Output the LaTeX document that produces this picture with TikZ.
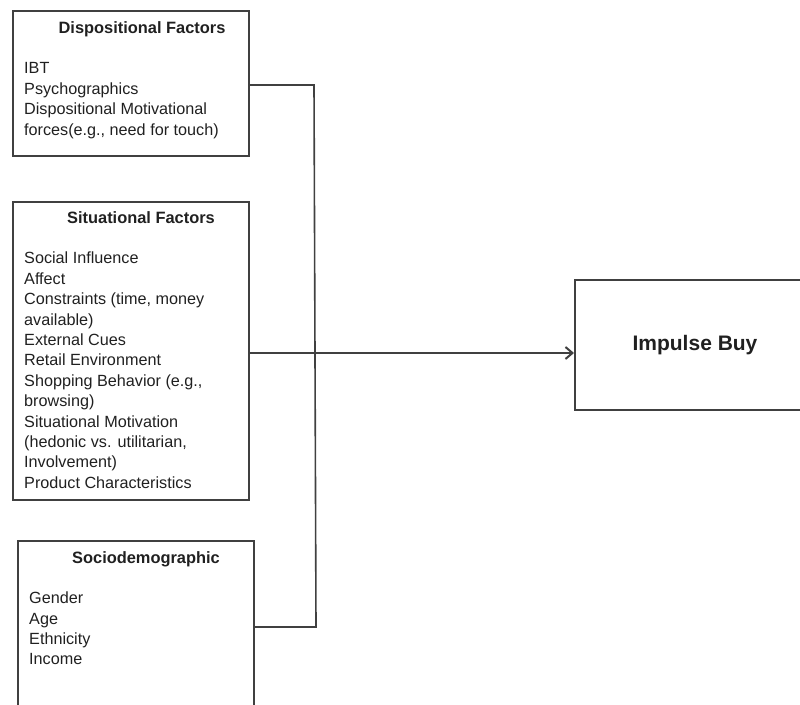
\documentclass[tikz,border=0pt]{standalone}
\usepackage{fontspec}
\setmainfont{Liberation Sans}
\usetikzlibrary{arrows.meta}
\definecolor{ln}{HTML}{404040}
\definecolor{tx}{HTML}{202020}
\tikzset{
  box/.style={draw=ln, line width=1.6pt, rectangle, inner sep=0pt, anchor=north west},
  ttl/.style={font=\fontsize{16.4}{19}\selectfont\bfseries, text=tx, anchor=base, inner sep=0pt},
  lst/.style={font=\fontsize{16.2}{20.4}\selectfont, text=tx, anchor=north west, align=left, inner sep=0pt},
  conn/.style={draw=ln, line width=1.6pt},
}
\begin{document}
\begin{tikzpicture}[x=1pt,y=-1pt]
\useasboundingbox (0,0) rectangle (800,704);
\clip (0,0) rectangle (800,704);
% boxes
\node[box, minimum width=236pt, minimum height=145pt] (disp) at (12,10) {};
\node[box, minimum width=236pt, minimum height=298pt] (sit) at (12,201) {};
\node[box, minimum width=236pt, minimum height=200pt] (soc) at (17,540) {};
\node[box, minimum width=250pt, minimum height=130pt] (imp) at (574,279) {};
% titles
\node[ttl] (dispT) at (142,33.3) {Dispositional Factors};
\node[ttl] (sitT) at (141,223) {Situational Factors};
\node[ttl] (socT) at (146,563.3) {Sociodemographic};
\node[font=\fontsize{21}{25}\selectfont\bfseries, text=tx, anchor=base, inner sep=0pt] (impT) at (695,350) {Impulse Buy};
% lists
\node[lst] (dispL) at (24,62.5) {IBT\\Psychographics\\Dispositional Motivational\\forces(e.g., need for touch)};
\node[lst] (sitL) at (24,252) {Social Influence\\Affect\\Constraints (time, money\\available)\\External Cues\\Retail Environment\\Shopping Behavior (e.g.,\\browsing)\\Situational Motivation\\(hedonic vs. utilitarian,\\Involvement)\\Product Characteristics};
\node[lst] (socL) at (29,591.8) {Gender\\Age\\Ethnicity\\Income};
% connectors
\coordinate (j1) at (314,85);
\coordinate (j2) at (316,627);
\coordinate (ar) at (0,353);
\draw[conn] (disp.east |- j1) -- (j1) -- (j2) -- (soc.east |- j2);
\draw[conn, -{Straight Barb[length=7pt,width=12pt,line width=2pt]}] (sit.east |- ar) -- (imp.west |- ar);
\end{tikzpicture}
\end{document}
